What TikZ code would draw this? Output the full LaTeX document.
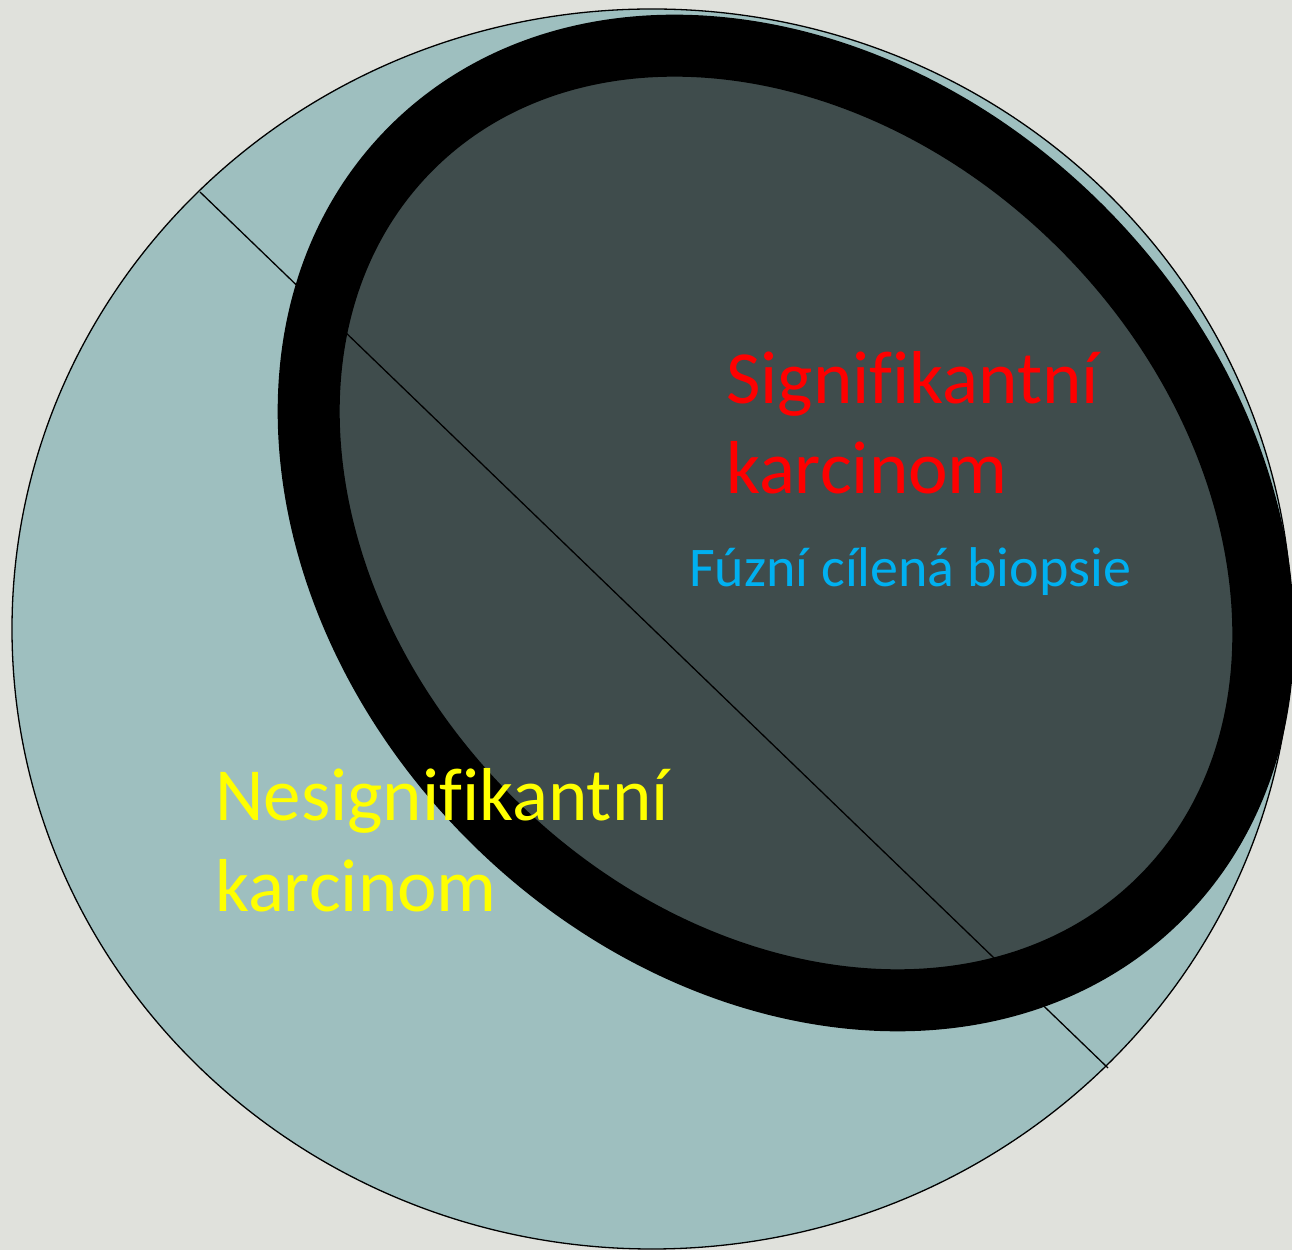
\documentclass[tikz,border=0pt]{standalone}
\usepackage{fontspec}
\setmainfont{Carlito}[Ligatures=NoCommon]
\definecolor{bgcol}{HTML}{E0E1DC}
\definecolor{tealfill}{HTML}{9EBFBF}
\definecolor{darkfill}{HTML}{404A47}
\definecolor{fuzeblue}{HTML}{00B0F0}
\definecolor{sigred}{HTML}{FF0000}
\definecolor{nesyellow}{HTML}{FFFF00}
\begin{document}
\begin{tikzpicture}[x=1pt,y=1pt,
  lbl/.style={anchor=base west, inner sep=0pt, font=\fontsize{75}{90}\selectfont},
  thin outline/.style={draw=black, line width=1.3pt}]
\fill[bgcol] (0,0) rectangle (1292,1250);
\useasboundingbox (0,0) rectangle (1292,1250);
% prostate (big circle)
\filldraw[fill=tealfill, thin outline] (652,621) ellipse [x radius=640, y radius=620];
% dividing line
\coordinate (p1) at (200,1058);
\coordinate (p2) at (1108,182);
\draw[thin outline] (p1) -- (p2);
% lesion ring
\draw[line width=62pt, draw=black, fill=black, fill opacity=0.6, rotate around={-45:(786,727)}]
  (786,727) ellipse [x radius=530, y radius=418];
% labels
\node[lbl, text=sigred] (sig1) at (726,846) {Signifikantní};
\node[lbl, text=sigred] (sig2) at (726,756) {karcinom};
\node[lbl, text=fuzeblue, font=\fontsize{56}{67}\selectfont] (fuz) at (689,663) {Fúzní cílená biopsie};
\node[lbl, text=nesyellow] (nes1) at (215,429) {Nesignifikantní};
\node[lbl, text=nesyellow] (nes2) at (215,338) {karcinom};
\end{tikzpicture}
\end{document}
